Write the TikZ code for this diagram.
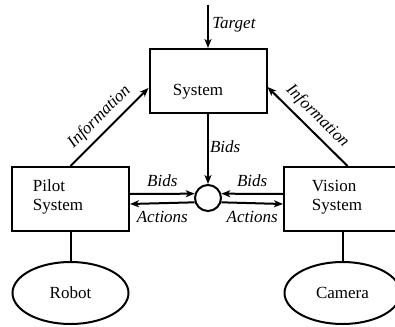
\documentclass[tikz,border=0pt]{standalone}
\usepackage{fontspec}
\setmainfont{Liberation Serif}
\newfontfamily\diagfont{Liberation Serif}
\usetikzlibrary{arrows.meta,shapes.geometric,positioning}

\begin{document}
\begin{tikzpicture}[x=1pt,y=-1pt,line width=2pt,>={Stealth[length=9pt,width=7pt,inset=2.5pt]},
	font=\diagfont\fontsize{17}{19}\selectfont,
	box/.style={draw,rectangle,minimum width=117pt,minimum height=64pt,inner sep=0pt},
	blob/.style={draw,ellipse,minimum width=116pt,minimum height=62pt,inner sep=0pt},
	flow/.style={font=\diagfont\fontsize{17}{19}\selectfont\itshape}]

	\useasboundingbox (0,0) rectangle (395,326);

	% Draw the boxes
	\node[box,label={[shift={(-10pt,-11pt)}]center:System}] (sys) at (208,81) {};
	\node[box,label={[shift={(-12.5pt,2pt)},align=left]center:Pilot\\System}] (pilot) at (70.5,199) {};
	\node[box,label={[shift={(-5.5pt,2pt)},align=left]center:Vision\\System}] (vis) at (342.5,199) {};

	% Draw the hub between the systems
	\node[draw,circle,minimum size=26pt,inner sep=0pt] (hub) at (208,198) {};

	% Draw the robot and the camera
	\node[blob] (robot) at (70.5,293) {Robot};
	\node[blob] (camera) at (342.5,293) {Camera};

	% Target comes in from the top
	\coordinate (tgt) at (208,5);
	\draw[->] (tgt) -- node[right,flow,yshift=2pt]{Target} (sys.north);
	\draw[->] (sys.south) -- node[right,flow,inner sep=1pt,yshift=2pt]{Bids} (hub.north);

	% Bids go to the hub, actions come back
	\draw[->] ([yshift=5pt]pilot.east) -- node[above,flow,yshift=3pt]{Bids} (hub.162);
	\draw[->] (hub.198) -- node[below,flow,yshift=-4pt]{Actions} ([yshift=-5pt]pilot.east);
	\draw[->] ([yshift=5pt]vis.west) -- node[above,flow,yshift=3pt]{Bids} (hub.18);
	\draw[->] (hub.342) -- node[below,flow,yshift=-4pt]{Actions} ([yshift=-5pt]vis.west);

	% Information goes up to the system
	\draw[->] (pilot.north) -- node[sloped,above,flow,yshift=2pt]{Information} ([yshift=-7pt]sys.west);
	\draw[->] ([xshift=5pt]vis.north) -- node[sloped,above,flow,yshift=2pt]{Information} ([yshift=-6pt]sys.east);

	\draw (pilot.south) -- (robot.north);
	\draw (vis.south) -- (camera.north);

\end{tikzpicture}
\end{document}
